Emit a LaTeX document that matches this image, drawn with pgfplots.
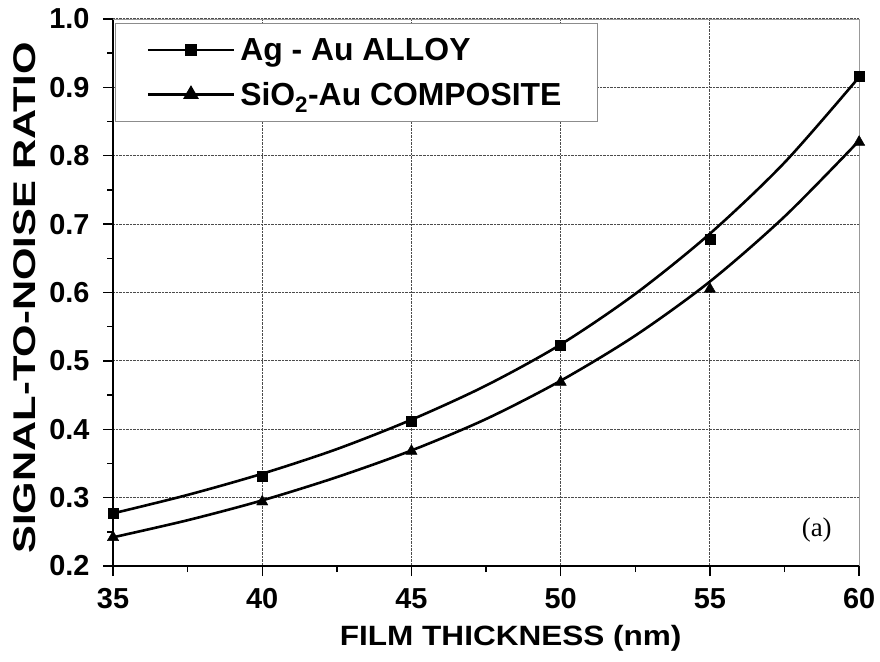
\documentclass[border=0pt]{standalone}
\usepackage{pgfplots}
\pgfplotsset{compat=1.18}
\usepackage{fontspec}
\setmainfont{Liberation Sans}
\newfontfamily\seriffont{Liberation Serif}
\begin{document}
\begin{tikzpicture}
\begin{axis}[
  scale only axis,
  width=746bp, height=547bp,
  xmin=35, xmax=60, ymin=0.2, ymax=1.0,
  xtick={35,40,...,60},
  ytick={0.2,0.3,...,1.0},
  minor x tick num=1, minor y tick num=1,
  axis x line*=bottom, axis y line*=left,
  axis line style={black, line width=1.6bp, -},
  tick align=outside,
  major tick length=10bp, minor tick length=6bp,
  tick style={black, line width=1.4bp},
  grid=major,
  major grid style={densely dotted, black!70, line width=1.1bp},
  /pgf/number format/assume math mode=true,
  y tick label style={/pgf/number format/fixed, /pgf/number format/fixed zerofill, /pgf/number format/precision=1, xshift=-10bp},
  ticklabel style={font=\bfseries\fontsize{29}{34}\selectfont},
  x tick label style={yshift=-9bp},
  xlabel={FILM THICKNESS (nm)},
  ylabel={SIGNAL-TO-NOISE RATIO},
  every axis x label/.style={at={(axis description cs:0.533,-0.132)}, anchor=center, xscale=1.13, font=\bfseries\fontsize{28}{33}\selectfont},
  every axis y label/.style={at={(axis description cs:-0.119,0.49)}, anchor=center, rotate=90, xscale=1.33, font=\bfseries\fontsize{31.5}{36}\selectfont},
  legend style={at={(axis description cs:0.003,0.993)}, anchor=north west,
    draw=black!45, line width=0.8bp, fill=white,
    font=\bfseries\fontsize{32}{36}\selectfont,
    inner xsep=31bp, inner ysep=14bp, row sep=18bp,
    nodes={inner xsep=5bp, inner ysep=1bp}},
  legend cell align=left,
  legend image code/.code={\draw[mark repeat=2,mark phase=2] plot coordinates {(0bp,0bp)(43bp,0bp)(86bp,0bp)};},
  clip=false,
]
% fitted curves (legend entries)
\addplot[black, line width=2.6bp, smooth, mark=square*, mark size=5bp, mark options={solid}, mark repeat=100, mark phase=100] coordinates {
  (35,0.277) (37.5,0.304) (40,0.335) (42.5,0.371) (45,0.414) (47.5,0.464) (50,0.524) (52.5,0.598) (55,0.686) (57.5,0.790) (60,0.915)};
\addlegendentry{Ag - Au ALLOY}
\addplot[black, line width=2.6bp, smooth, mark=triangle*, mark size=6.5bp, mark options={solid}, mark repeat=100, mark phase=100] coordinates {
  (35,0.242) (37.5,0.267) (40,0.296) (42.5,0.330) (45,0.369) (47.5,0.415) (50,0.471) (52.5,0.537) (55,0.616) (57.5,0.711) (60,0.822)};
\addlegendentry{SiO\textsubscript{2}-Au COMPOSITE}
% data markers
\addplot[only marks, mark=square*, mark size=5bp, black, forget plot] coordinates {
  (35,0.277) (40,0.332) (45,0.412) (50,0.523) (55,0.678) (60,0.916)};
\addplot[only marks, mark=triangle*, mark size=6.5bp, black, forget plot] coordinates {
  (35,0.242) (40,0.294) (45,0.368) (50,0.469) (55,0.605) (60,0.820)};
\draw[black!40, line width=0.8bp] (rel axis cs:0,1) -- (rel axis cs:1,1) -- (rel axis cs:1,0);
\node[font=\seriffont\fontsize{27}{30}\selectfont] at (axis cs:58.58,0.253) {(a)};
\path (rel axis cs:-0.1515,-0.1737) rectangle (rel axis cs:1.028,1.0347);
\end{axis}
\end{tikzpicture}
\end{document}
